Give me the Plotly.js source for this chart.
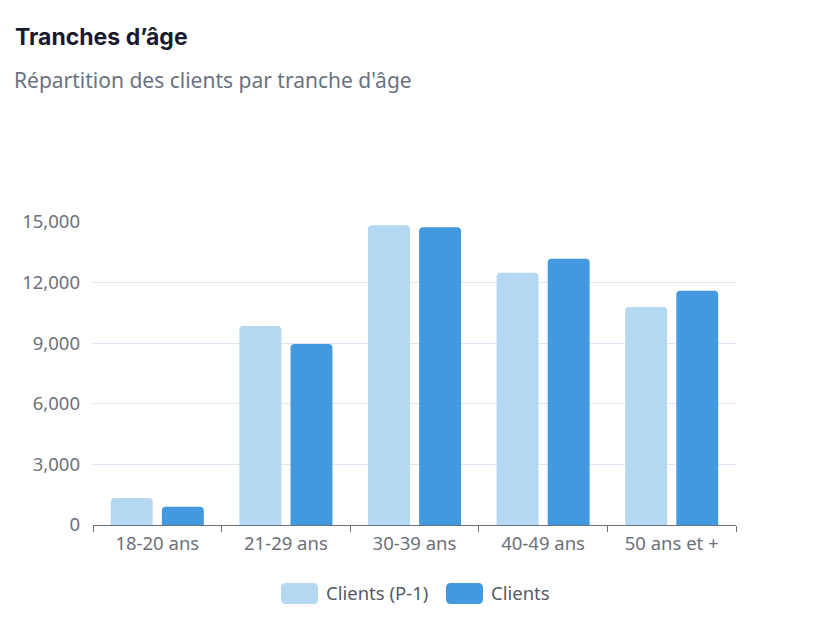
<!DOCTYPE html>
<html>
<head>
<meta charset="utf-8">
<script src="https://cdn.plot.ly/plotly-3.0.1.min.js"></script>
<style>html,body{margin:0;padding:0;background:#fff;}#chart{width:824px;height:632px;}</style>
</head>
<body>
<div id="chart"></div>
<script>
const categories = ["18-20 ans", "21-29 ans", "30-39 ans", "40-49 ans", "50 ans et +"];
const clientsP1 = [1340, 9850, 14840, 12490, 10790];
const clients = [900, 8960, 14740, 13180, 11600];
const seriesNames = ["Clients (P-1)", "Clients"];
const yTicks = [0, 3000, 6000, 9000, 12000, 15000];

const lightColor = "#b4d7f2";
const darkColor = "#4299e0";
const labelColor = "#6e7079";
const fontFam = "'Noto Sans', 'Open Sans', sans-serif";

const W = 824, H = 632;
const m = {l: 93, r: 88, t: 222, b: 107};
const pw = W - m.l - m.r, ph = H - m.t - m.b;
const px = x => (x - m.l) / pw;
const py = y => (H - m.b - y) / ph;

function roundRect(x0, y0, x1, y1, r) {
  // pixel coords -> paper path with rounded corners
  const X = v => px(v).toFixed(5), Y = v => py(v).toFixed(5);
  return "M" + X(x0 + r) + "," + Y(y0) +
    " L" + X(x1 - r) + "," + Y(y0) +
    " Q" + X(x1) + "," + Y(y0) + " " + X(x1) + "," + Y(y0 + r) +
    " L" + X(x1) + "," + Y(y1 - r) +
    " Q" + X(x1) + "," + Y(y1) + " " + X(x1 - r) + "," + Y(y1) +
    " L" + X(x0 + r) + "," + Y(y1) +
    " Q" + X(x0) + "," + Y(y1) + " " + X(x0) + "," + Y(y1 - r) +
    " L" + X(x0) + "," + Y(y0 + r) +
    " Q" + X(x0) + "," + Y(y0) + " " + X(x0 + r) + "," + Y(y0) + " Z";
}

const traces = [
  {type: "bar", x: categories, y: clientsP1, name: seriesNames[0], marker: {color: lightColor}, hoverinfo: "x+y+name"},
  {type: "bar", x: categories, y: clients, name: seriesNames[1], marker: {color: darkColor}, hoverinfo: "x+y+name"}
];

const layout = {
  width: W, height: H,
  margin: m,
  paper_bgcolor: "#fff", plot_bgcolor: "#fff",
  barmode: "group",
  bargap: 0.205,
  bargroupgap: 0.18,
  barcornerradius: 4,
  showlegend: false,
  font: {family: fontFam, color: labelColor},
  xaxis: {
    type: "category",
    showgrid: false,
    showline: true, linecolor: labelColor, linewidth: 1,
    ticks: "outside", tickson: "boundaries", ticklen: 6, tickcolor: labelColor,
    ticklabelstandoff: 2,
    tickfont: {size: 18.5, color: labelColor, family: fontFam},
    fixedrange: true
  },
  yaxis: {
    range: [0, 15000],
    tickvals: yTicks,
    tickformat: ",",
    showgrid: true, gridcolor: "#e0e6f1", gridwidth: 1,
    zeroline: false, showline: false,
    ticks: "", ticklabelstandoff: 12,
    tickfont: {size: 18.5, color: labelColor, family: fontFam},
    fixedrange: true
  },
  shapes: [
    {type: "path", xref: "paper", yref: "paper", path: roundRect(281, 583, 318, 604, 5), fillcolor: lightColor, line: {width: 0}},
    {type: "path", xref: "paper", yref: "paper", path: roundRect(446, 583, 483, 604, 5), fillcolor: darkColor, line: {width: 0}}
  ],
  annotations: [
    {xref: "paper", yref: "paper", x: px(13), y: py(37), xanchor: "left", yanchor: "middle", showarrow: false,
     text: "<b>Tranches d’âge</b>", font: {size: 23, color: "#1a1a2e", family: "Inter, 'Noto Sans', sans-serif"}},
    {xref: "paper", yref: "paper", x: px(12), y: py(80), xanchor: "left", yanchor: "middle", showarrow: false,
     text: "Répartition des clients par tranche d'âge", font: {size: 21, color: "#6b7280", family: fontFam}},
    {xref: "paper", yref: "paper", x: px(324), y: py(592), xanchor: "left", yanchor: "middle", showarrow: false,
     text: seriesNames[0], font: {size: 18.5, color: "#555a66", family: fontFam}},
    {xref: "paper", yref: "paper", x: px(489), y: py(592), xanchor: "left", yanchor: "middle", showarrow: false,
     text: seriesNames[1], font: {size: 18.5, color: "#555a66", family: fontFam}}
  ]
};

Plotly.newPlot("chart", traces, layout, {displayModeBar: false, staticPlot: true});
</script>
</body>
</html>
